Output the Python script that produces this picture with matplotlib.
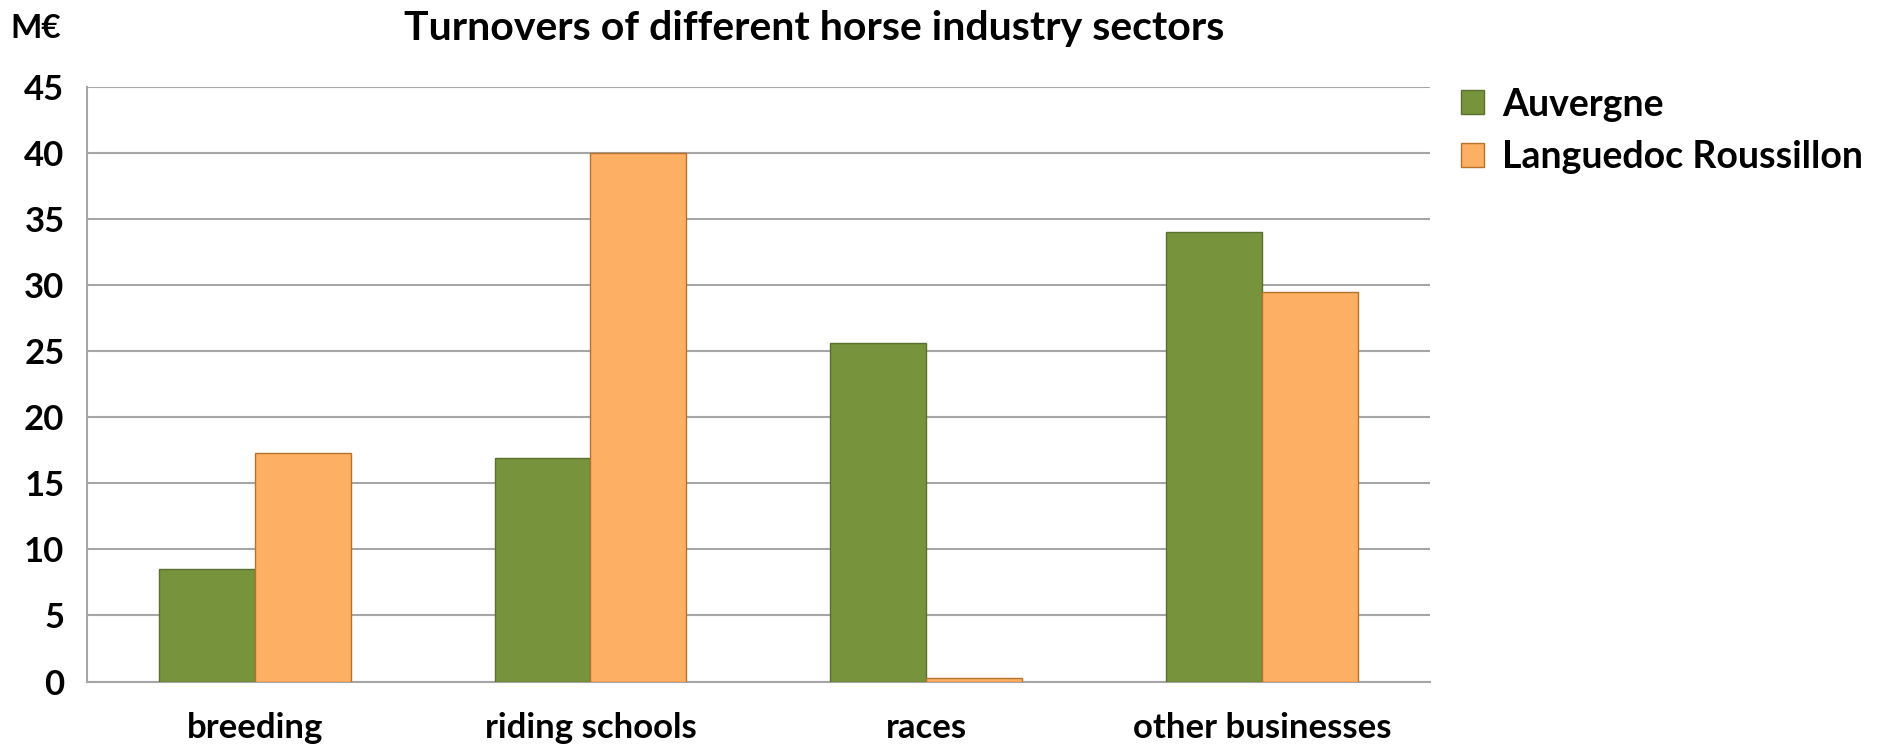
import matplotlib
matplotlib.use("Agg")
import matplotlib.pyplot as plt
import numpy as np

categories = ["breeding", "riding schools", "races", "other businesses"]
series_names = ["Auvergne", "Languedoc Roussillon"]
auvergne = [8.5, 16.9, 25.6, 34.0]
languedoc = [17.3, 40.0, 0.3, 29.5]
yticks = [0, 5, 10, 15, 20, 25, 30, 35, 40, 45]

green = "#77933C"
green_edge = "#5B7030"
orange = "#FDB064"
orange_edge = "#B5722C"

plt.rcParams['font.family'] = ['Lato', 'DejaVu Sans']

fig = plt.figure(figsize=(18.88, 7.48), dpi=100)
ax = fig.add_axes([0.0459, 0.0889, 0.7116, 0.7951])

x = np.arange(len(categories))
w = 0.2857
ax.bar(x - w/2, auvergne, w, color=green, edgecolor=green_edge, linewidth=1.0,
       label=series_names[0], zorder=3)
ax.bar(x + w/2, languedoc, w, color=orange, edgecolor=orange_edge, linewidth=1.0,
       label=series_names[1], zorder=3)

ax.set_xlim(-0.5, len(categories) - 0.5)
ax.set_ylim(0, 45)
ax.set_yticks(yticks)
ax.set_yticklabels([str(v) for v in yticks], fontsize=25, fontweight='bold')
ax.set_xticks(x)
ax.set_xticklabels(categories, fontsize=25, fontweight='bold')
ax.tick_params(axis='both', length=0)
ax.tick_params(axis='y', pad=16)
ax.tick_params(axis='x', pad=22)
ax.yaxis.grid(True, color="#A6A6A6", linewidth=1.5, zorder=0)
ax.set_axisbelow(True)
for s in ["top", "right"]:
    ax.spines[s].set_visible(False)
ax.spines["left"].set_color("#A6A6A6")
ax.spines["left"].set_linewidth(1.5)
ax.spines["bottom"].set_color("#A6A6A6")
ax.spines["bottom"].set_linewidth(1.5)

fig.text(0.431, 0.962, "Turnovers of different horse industry sectors",
         ha='center', va='center', fontsize=29.5, fontweight='bold')
fig.text(0.019, 0.962, "M€", ha='center', va='center', fontsize=24, fontweight='bold')

leg = fig.legend(loc='upper left', bbox_to_anchor=(0.756, 0.928), frameon=False,
                 prop={'weight': 'bold', 'size': 27},
                 handlelength=0.6, handleheight=0.6, handletextpad=0.5,
                 labelspacing=0.5)

fig.savefig("out.png", dpi=100)
